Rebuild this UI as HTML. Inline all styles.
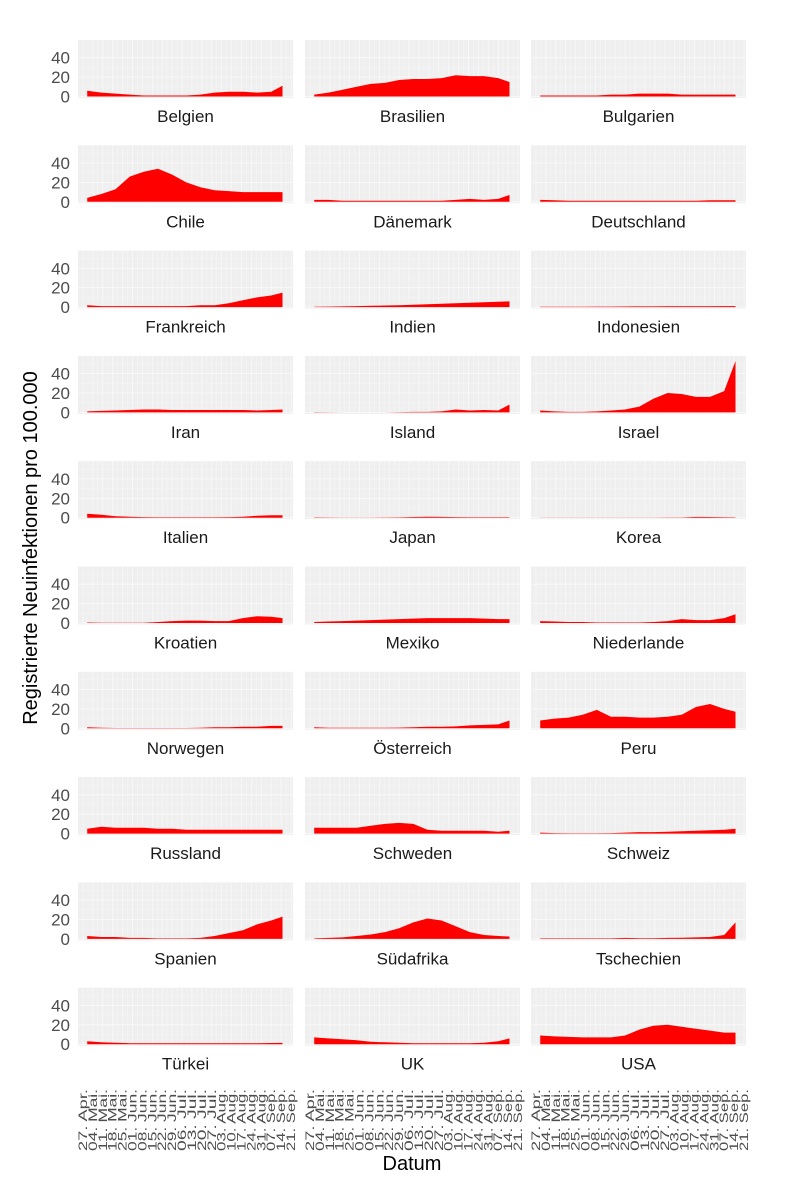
<!DOCTYPE html>
<html><head><meta charset="utf-8"><style>
html,body{margin:0;padding:0;background:#fff;}
svg{display:block;font-family:"Liberation Sans",sans-serif;}
</style></head><body>
<svg id="chart" width="804" height="1200" viewBox="0 0 804 1200" xmlns="http://www.w3.org/2000/svg">
<text x="0" y="0" transform="translate(37,548) rotate(-90)" text-anchor="middle" font-size="20" fill="#000">Registrierte Neuinfektionen pro 100.000</text>
<text x="412" y="1170" text-anchor="middle" font-size="20" fill="#000">Datum</text>
</svg>
<script>
const countries = ["Belgien","Brasilien","Bulgarien","Chile","Dänemark","Deutschland","Frankreich","Indien","Indonesien","Iran","Island","Israel","Italien","Japan","Korea","Kroatien","Mexiko","Niederlande","Norwegen","Österreich","Peru","Russland","Schweden","Schweiz","Spanien","Südafrika","Tschechien","Türkei","UK","USA"];
const days = [3,13,23,33,43,53,63,73,83,93,103,113,123,133,141];
const belgien=[6,4,3,2,1,1,1,1,2,4,5,5,4,5,11];
const brasilien=[2,4,7,10,13,14,17,18,18,19,22,21,21,19,15];
const bulgarien=[1,1,1,1,1,2,2,3,3,3,2,2,2,2,2];
const chile=[4,8,13,26,31,34,28,20,15,12,11,10,10,10,10];
const daenemark=[2,2,1,1,1,1,1,1,1,1,2,3,2,3,7];
const deutschland=[2,1.5,1,1,1,1,1,1,1,1,1,1,1.5,1.5,1.5];
const frankreich=[2,1,1,1,1,1,1,1,2,2,4,7,10,12,15];
const indien=[0.3,0.5,0.7,1,1.3,1.7,2,2.5,3,3.5,4,4.5,5,5.5,6];
const indonesien=[0.3,0.3,0.3,0.4,0.5,0.5,0.6,0.7,0.7,0.8,0.8,0.9,0.9,1,1];
const iran=[1,1.5,2,2.5,3,3,2.5,2.5,2.5,2.5,2.5,2.5,2,2.5,3];
const island=[0.3,0.2,0,0,0,0,0.3,0.5,0.5,1,3,2,2.5,2,8];
const israel=[2,1,0.5,0.5,1,2,3,6,14,20,19,16,16,22,53];
const italien=[4,3,1.5,1,0.6,0.5,0.4,0.4,0.4,0.5,0.6,1,2,2.5,2.5];
const japan=[0.3,0.2,0.1,0.1,0.1,0.2,0.3,0.7,1,0.8,0.6,0.5,0.4,0.4,0.4];
const korea=[0.1,0.1,0.1,0.1,0.1,0.1,0.1,0.1,0.1,0.2,0.2,0.8,0.7,0.4,0.3];
const kroatien=[0.5,0.3,0.3,0.2,0.2,1,2,2.5,2.5,2,2,5,7,6.5,5];
const mexiko=[1,1.5,2,2.5,3,3.5,4,4.5,5,5,5,5,4.5,4,4];
const niederlande=[2,1.5,1,1,0.5,0.5,0.5,0.5,1,2,4,3,3,5,9];
const norwegen=[1,0.5,0.3,0.3,0.3,0.3,0.3,0.3,0.5,1,1,1.5,1.5,2.5,2.5];
const oesterreich=[1,0.5,0.5,0.5,0.5,0.5,0.7,1,1.5,1.5,2,3,3.5,4,8];
const peru=[8,10,11,14,19,12,12,11,11,12,14,22,25,20,17];
const russland=[5,7,6,6,6,5,5,4,4,4,4,4,4,4,4];
const schweden=[6,6,6,6,8,10,11,10,4,3,3,3,3,2,3];
const schweiz=[1,0.5,0.3,0.3,0.3,0.5,1,1.5,1.5,2,2.5,3,3.5,4,5];
const spanien=[3,2,2,1,1,0.5,0.5,0.5,1,3,6,9,15,19,23];
const suedafrika=[0.5,1,1.5,3,4.5,7,11,17,21,19,13,7,4,3,2.5];
const tschechien=[0.5,0.5,0.5,0.5,0.5,0.5,1,0.7,0.7,1,1.2,1.5,2,4,17];
const tuerkei=[3,2,1.5,1,1,1,1,1,1,1,1,1,1,1.2,1.3];
const uk=[7,6,5,4,2.5,2,1.5,1,1,1,1,1,1.5,3,6];
const usa=[9,8,7.5,7,7,7,9,15,19,20,18,16,14,12,12];
const seriesList=[belgien,brasilien,bulgarien,chile,daenemark,deutschland,frankreich,indien,indonesien,iran,island,israel,italien,japan,korea,kroatien,mexiko,niederlande,norwegen,oesterreich,peru,russland,schweden,schweiz,spanien,suedafrika,tschechien,tuerkei,uk,usa];
const yTicks=[0,20,40];
const yMinor=[10,30,50];
const tickLabels=["27. Apr.","04. Mai.","11. Mai.","18. Mai.","25. Mai.","01. Jun.","08. Jun.","15. Jun.","22. Jun.","29. Jun.","06. Jul.","13. Jul.","20. Jul.","27. Jul.","03. Aug.","10. Aug.","17. Aug.","24. Aug.","31. Aug.","07. Sep.","14. Sep.","21. Sep."];

const NS="http://www.w3.org/2000/svg";
const svg=document.getElementById('chart');
const colX=[78,305,531], PW=215, PH=58, ROW0=40, RSTEP=105.3;
function xScale(c,d){return colX[c]+5+d*1.415;}
function yScale(r,v){return ROW0+r*RSTEP+56.5-v*0.97;}
function mk(tag,attrs){const e=document.createElementNS(NS,tag);for(const k in attrs)e.setAttribute(k,attrs[k]);return e;}

countries.forEach((name,i)=>{
  const r=Math.floor(i/3), c=i%3;
  const top=ROW0+r*RSTEP;
  const g=mk('g',{});
  
  
  const bg=mk('rect',{x:colX[c],y:top,width:PW,height:PH,fill:'#efefef'});
  
  
  g.appendChild(bg);
  for(let k=0;k<tickLabels.length;k++){
    const x=xScale(c,k*7);
    const l=mk('line',{x1:x,x2:x,y1:top,y2:top+PH,stroke:'#fafafa','stroke-width':0.7});
    
    
    g.appendChild(l);
    if(k<tickLabels.length-1){const xm=xScale(c,k*7+3.5);
      const lm=mk('line',{x1:xm,x2:xm,y1:top,y2:top+PH,stroke:'#f5f5f5','stroke-width':0.5});
      
      
      g.appendChild(lm);}
  }
  yMinor.forEach(v=>{const y=yScale(r,v);
    const l=mk('line',{x1:colX[c],x2:colX[c]+PW,y1:y,y2:y,stroke:'#f5f5f5','stroke-width':0.5});
    
    
    g.appendChild(l);});
  yTicks.forEach(v=>{const y=yScale(r,v);
    const l=mk('line',{x1:colX[c],x2:colX[c]+PW,y1:y,y2:y,stroke:'#fafafa','stroke-width':0.8});
    
    
    g.appendChild(l);});
  const vals=seriesList[i];
  let d='M'+xScale(c,days[0])+','+yScale(r,0);
  days.forEach((dd,j)=>{d+=' L'+xScale(c,dd).toFixed(1)+','+yScale(r,vals[j]).toFixed(1);});
  d+=' L'+xScale(c,days[days.length-1])+','+yScale(r,0)+' Z';
  const area=mk('path',{d:d,fill:'#ff0000'});
  
  
  g.appendChild(area);
  const t=mk('text',{x:colX[c]+PW/2,y:top+82,'text-anchor':'middle','font-size':17,fill:'#1a1a1a'});
  t.textContent=name;
  
  
  g.appendChild(t);
  if(c===0){
    yTicks.forEach(v=>{
      const tt=mk('text',{x:70,y:yScale(r,v)+6,'text-anchor':'end','font-size':17,fill:'#4d4d4d'});
      tt.textContent=String(v);
      
      
      g.appendChild(tt);
    });
  }
  svg.appendChild(g);
});
for(let c=0;c<3;c++){
  tickLabels.forEach((lab,k)=>{
    const x=xScale(c,k*7)+4;
    const t=mk('text',{x:0,y:0,transform:'translate('+x.toFixed(1)+',1089) rotate(-90)','text-anchor':'end','font-size':12,fill:'#4d4d4d',textLength:62,lengthAdjust:'spacingAndGlyphs'});
    t.textContent=lab;
    
    
    svg.appendChild(t);
  });
}
</script>
</body></html>
